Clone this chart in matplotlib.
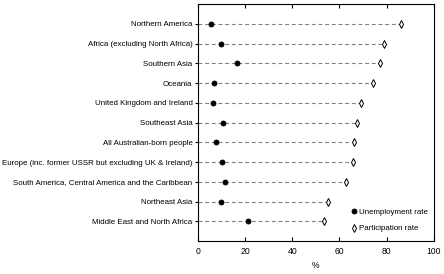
import matplotlib
matplotlib.use("Agg")
import matplotlib.pyplot as plt

plt.rcParams['font.family'] = ['Liberation Sans', 'DejaVu Sans']

categories = [
    "Northern America",
    "Africa (excluding North Africa)",
    "Southern Asia",
    "Oceania",
    "United Kingdom and Ireland",
    "Southeast Asia",
    "All Australian-born people",
    "Europe (inc. former USSR but excluding UK & Ireland)",
    "South America, Central America and the Caribbean",
    "Northeast Asia",
    "Middle East and North Africa",
]
unemployment = [5.7, 9.6, 16.5, 6.6, 6.2, 10.8, 7.7, 10.0, 11.3, 9.6, 21.0]
participation = [85.9, 78.7, 77.2, 74.2, 69.3, 67.3, 66.2, 65.6, 62.7, 55.1, 53.5]
xticks = [0, 20, 40, 60, 80, 100]

fig = plt.figure(figsize=(4.44, 2.74), dpi=100)
ax = fig.add_axes([0.446, 0.120, 0.531, 0.865])

n = len(categories)
ys = [n - i for i in range(n)]

for y, p in zip(ys, participation):
    ax.plot([0, p], [y, y], color='#808080', linestyle=(0, (3.5, 2.5)), linewidth=0.8, zorder=1)

ax.plot(unemployment, ys, linestyle='none', marker='o', markersize=3.6,
        markerfacecolor='black', markeredgecolor='black', markeredgewidth=0.6,
        label='Unemployment rate', zorder=3)
ax.plot(participation, ys, linestyle='none', marker='d', markersize=4.2,
        markerfacecolor='white', markeredgecolor='black', markeredgewidth=0.7,
        label='Participation rate', zorder=3)

ax.set_xlim(0, 100)
ax.set_ylim(0, n + 1)
ax.set_xticks(xticks)
ax.set_xticklabels([str(t) for t in xticks], fontsize=6.2)
ax.set_yticks(ys)
ax.set_yticklabels(categories, fontsize=5.7)
ax.tick_params(axis='x', direction='in', top=True, length=3, width=0.8, pad=4)
ax.tick_params(axis='y', direction='out', length=2, width=0.8, pad=2)
ax.set_xlabel('%', fontsize=6.2, labelpad=4)
for s in ax.spines.values():
    s.set_linewidth(0.8)

leg = ax.legend(loc='lower right', frameon=False, fontsize=5.7, handlelength=0.6,
                handletextpad=0.4, borderaxespad=0.3, labelspacing=1.1,
                bbox_to_anchor=(1.0, 0.013))

fig.savefig('out.png', dpi=100)
